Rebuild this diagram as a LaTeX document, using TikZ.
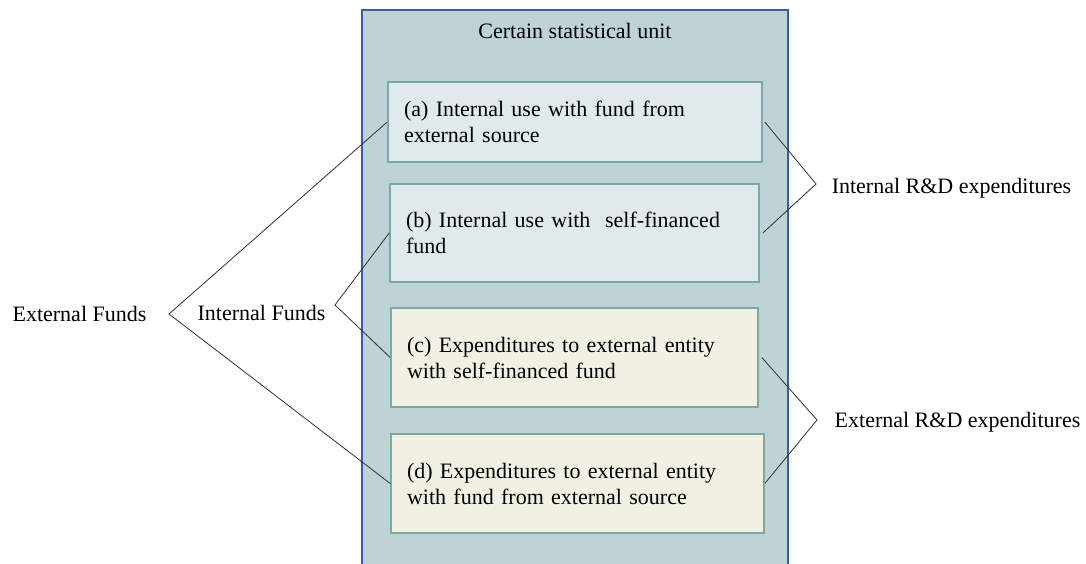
\documentclass[tikz,border=0pt]{standalone}
\usepackage{fontspec}
\setmainfont{Liberation Serif}
\definecolor{outerfill}{HTML}{BED3D6}
\definecolor{outerline}{HTML}{3B5DA8}
\definecolor{boxblue}{HTML}{E0EAED}
\definecolor{boxyellow}{HTML}{F0F1E2}
\definecolor{boxline}{HTML}{7DA8A3}
\definecolor{linkcol}{HTML}{303030}
\begin{document}
\begin{tikzpicture}[x=1pt,y=-1pt,
  txt/.style={font=\fontsize{22}{26}\selectfont, inner sep=0pt},
  inbox/.style={draw=boxline, line width=1.6pt, align=left, inner xsep=16pt, inner ysep=0pt,
    font=\fontsize{22}{26}\selectfont},
  link/.style={draw=linkcol, line width=0.8pt}]
\useasboundingbox (0,0) rectangle (1086,563);
\clip (0,0) rectangle (1086,563);
\path[fill=outerfill, draw=outerline, line width=1.5pt] (362,10) rectangle (788,600);
\node[txt] (title) at (575,31) {Certain statistical unit};
\node[inbox, fill=boxblue, minimum width=374pt, minimum height=80pt, text width=342pt] (a) at (575,122)
  {(a) Internal use with fund from\\external source};
\node[inbox, fill=boxblue, minimum width=369pt, minimum height=98pt, text width=337pt] (b) at (574.5,233)
  {(b) Internal use with\ \ self-financed\\fund};
\node[inbox, fill=boxyellow, minimum width=367pt, minimum height=99pt, text width=335pt] (c) at (574.5,357.5)
  {(c) Expenditures to external entity\\with self-financed fund};
\node[inbox, fill=boxyellow, minimum width=373pt, minimum height=99pt, text width=341pt] (d) at (577.5,483.5)
  {(d) Expenditures to external entity\\with fund from external source};
\node[txt] (ext) at (79.5,314) {External Funds};
\node[txt] (int) at (261.5,313) {Internal Funds};
\node[txt] (ird) at (951.5,188) {Internal R\&D expenditures};
\node[txt] (erd) at (957.5,422) {External R\&D expenditures};
\coordinate (ef) at (169,314);
\coordinate (if) at (335,305);
\coordinate (ir) at (816,184);
\coordinate (er) at (817,420);
\draw[link] (a.west) -- (ef) -- (d.west);
\draw[link] (b.west) -- (if) -- (c.west);
\draw[link] ([xshift=2pt]a.east) -- (ir) -- ([xshift=3pt]b.east);
\draw[link] ([xshift=3pt]c.east) -- (er) -- (d.east);
\end{tikzpicture}
\end{document}
